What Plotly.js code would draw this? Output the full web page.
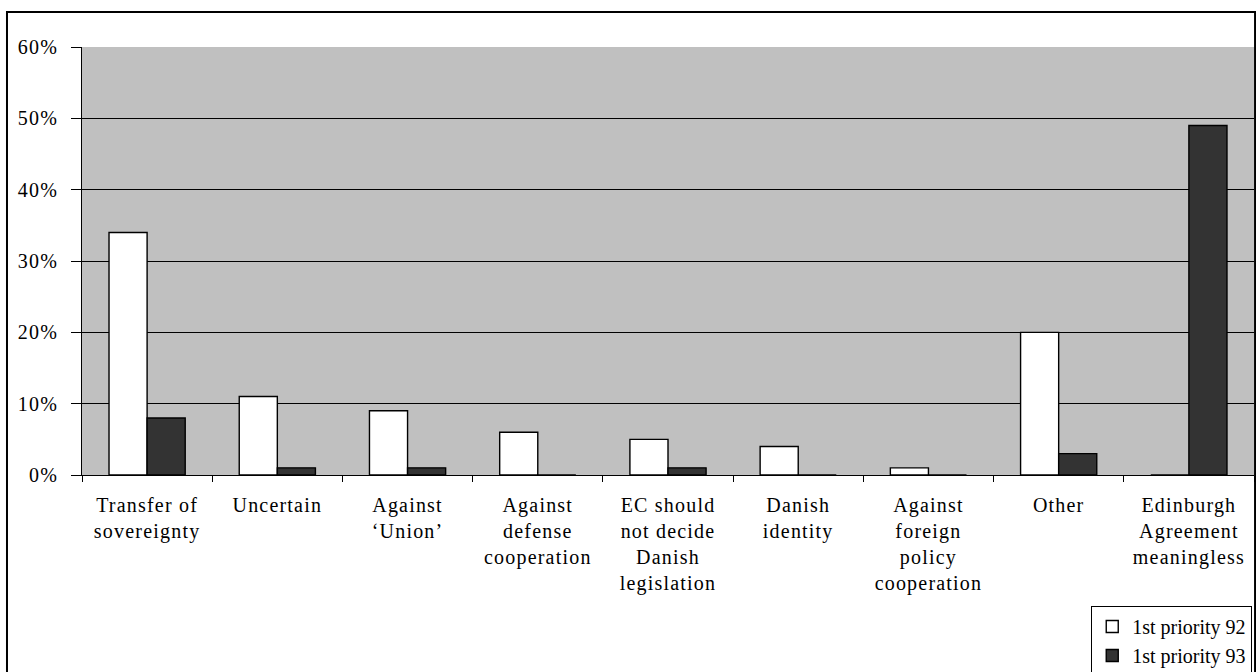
<!DOCTYPE html>
<html>
<head>
<meta charset="utf-8">
<script src="https://cdn.plot.ly/plotly-3.0.1.min.js"></script>
<style>
  html, body { margin: 0; padding: 0; background: #ffffff; }
  #chart { width: 1256px; height: 672px; }
  /* slightly open tracking for the serif axis labels */
  #chart .xtick text, #chart .ytick text { letter-spacing: 1.2px; }
</style>
</head>
<body>
<div id="chart"></div>
<script>
// Reasons for voting "no": first priority in 1992 vs 1993 (share of respondents, %)
const categories = [
  'Transfer of<br>sovereignty',
  'Uncertain',
  'Against<br>\u2018Union\u2019',
  'Against<br>defense<br>cooperation',
  'EC should<br>not decide<br>Danish<br>legislation',
  'Danish<br>identity',
  'Against<br>foreign<br>policy<br>cooperation',
  'Other',
  'Edinburgh<br>Agreement<br>meaningless'
];
const priority92 = [34, 11, 9, 6, 5, 4, 1, 20, 0];
const priority93 = [8, 1, 1, 0, 1, 0, 0, 3, 49];
const seriesNames = ['1st priority 92', '1st priority 93'];
const yTicks = [0, 10, 20, 30, 40, 50, 60];

const serif = 'Liberation Serif';

const traces = [
  {
    type: 'bar', name: seriesNames[0], x: categories, y: priority92,
    marker: { color: '#ffffff', line: { color: '#000000', width: 1.4 } },
    hoverinfo: 'skip'
  },
  {
    type: 'bar', name: seriesNames[1], x: categories, y: priority93,
    marker: { color: '#333333', line: { color: '#000000', width: 1.4 } },
    hoverinfo: 'skip'
  }
];

const layout = {
  width: 1256, height: 672,
  margin: { l: 82, r: 2, t: 47, b: 197, pad: 0, autoexpand: false },
  paper_bgcolor: '#ffffff',
  plot_bgcolor: '#c0c0c0',
  barmode: 'group',
  bargap: 0.415,
  bargroupgap: 0,
  showlegend: true,
  font: { family: serif, size: 20, color: '#000000' },
  xaxis: {
    type: 'category',
    tickson: 'boundaries',
    ticks: 'outside', ticklen: 6, tickcolor: '#000000', tickwidth: 1,
    showline: true, linecolor: '#000000', linewidth: 1,
    showgrid: false, zeroline: false,
    tickangle: 0,
    automargin: false,
    ticklabelstandoff: 12,
    tickfont: { family: serif, size: 20, color: '#000000' },
    fixedrange: true
  },
  yaxis: {
    range: [0, 60],
    tickvals: yTicks,
    ticktext: yTicks.map(v => v + '%'),
    ticks: 'outside', ticklen: 10, tickcolor: '#000000', tickwidth: 1,
    showline: true, linecolor: '#000000', linewidth: 1,
    showgrid: true, gridcolor: '#000000', gridwidth: 1,
    zeroline: false,
    automargin: false,
    ticklabelstandoff: 9,
    tickfont: { family: serif, size: 20, color: '#000000' },
    fixedrange: true
  },
  legend: {
    x: 0.9985, xanchor: 'right',
    y: -0.306, yanchor: 'top',
    bgcolor: '#ffffff', bordercolor: '#000000', borderwidth: 1,
    font: { family: serif, size: 20, color: '#000000' },
    traceorder: 'normal',
    itemwidth: 30,
    tracegroupgap: 0
  },
  shapes: [
    {
      type: 'rect', xref: 'paper', yref: 'paper',
      x0: -0.064, x1: 1.0009, y0: -0.6, y1: 1.0818,
      line: { color: '#000000', width: 2 },
      fillcolor: 'rgba(0,0,0,0)',
      layer: 'above'
    }
  ]
};

Plotly.newPlot('chart', traces, layout, { displayModeBar: false, staticPlot: true });
</script>
</body>
</html>
